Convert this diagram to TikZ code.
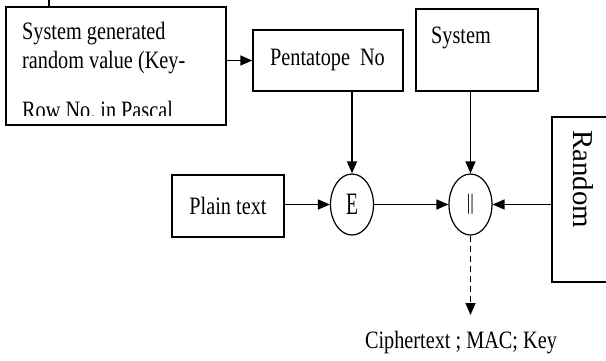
\documentclass[tikz,border=0pt]{standalone}
\usepackage{fontspec}
\setmainfont{Liberation Serif}[FakeStretch=0.81]
\usetikzlibrary{arrows.meta,shapes.geometric}
\begin{document}
\begin{tikzpicture}[x=1pt,y=-1pt,
  box/.style={draw,line width=1.5pt,inner sep=0pt},
  oval/.style={draw,ellipse,line width=1.2pt,minimum width=43pt,minimum height=61pt,inner sep=0pt},
  arr/.style={line width=1.6pt,-{Triangle[length=12pt,width=10pt]}},
  txt/.style={font=\fontsize{25}{25}\selectfont,inner sep=0pt}]
\useasboundingbox (0,0) rectangle (606,360);
\clip (0,0) rectangle (606,360);
% boxes
\node[box,minimum width=220pt,minimum height=118pt] (gen) at (116,66) {};
\node[txt,anchor=base west] (g1) at (22,39) {System generated};
\node[txt,anchor=base west] (g2) at (22,68) {random value (Key-};
\begin{scope}
\clip (6,0) rectangle (226,115);
\node[txt,anchor=base west] (g3) at (22,118) {Row No.\ in Pascal};
\end{scope}
\node[box,minimum width=150pt,minimum height=61pt] (pent) at (328,60.5) {};
\node[txt,anchor=base] (pentt) at (327.5,65) {Pentatope\ \ No};
\node[box,minimum width=122pt,minimum height=82pt] (sys) at (477,50) {};
\node[txt,anchor=base west] (syst) at (431,43) {System};
\node[box,minimum width=68pt,minimum height=165pt] (rnd) at (586,199.5) {};
\node[txt,rotate=-90,anchor=west] (rndt) at (583,130) {\resizebox{98pt}{20pt}{Random}};
\node[box,txt,minimum width=112pt,minimum height=62pt] (plain) at (228,206) {Plain text};
\node[oval] (E) at (352,204.5) {\fontsize{24}{24}\selectfont\scalebox{1}[1.3]{E}};
\node[oval] (cat) at (470.5,204.5) {\fontsize{22}{22}\selectfont ||};
% connectors
\coordinate (stub) at (49,-3);
\draw[line width=1.5pt] (stub) -- (stub |- gen.north);
\draw[arr] (gen.east |- pent.west) -- (pent.west);
\draw[arr] (E.north |- pent.south) -- (E.north);
\draw[arr] (cat.north |- sys.south) -- (cat.north);
\draw[arr] (plain.east |- E.west) -- (E.west);
\draw[arr] (E.east) -- (cat.west);
\draw[arr] (rnd.west |- cat.east) -- (cat.east);
\coordinate (outend) at (470.5,315);
\draw[arr,dash pattern=on 6pt off 4pt] (cat.south) -- (outend);
\node[txt,anchor=base] (ct) at (461,348) {Ciphertext ; MAC; Key};
\end{tikzpicture}
\end{document}
